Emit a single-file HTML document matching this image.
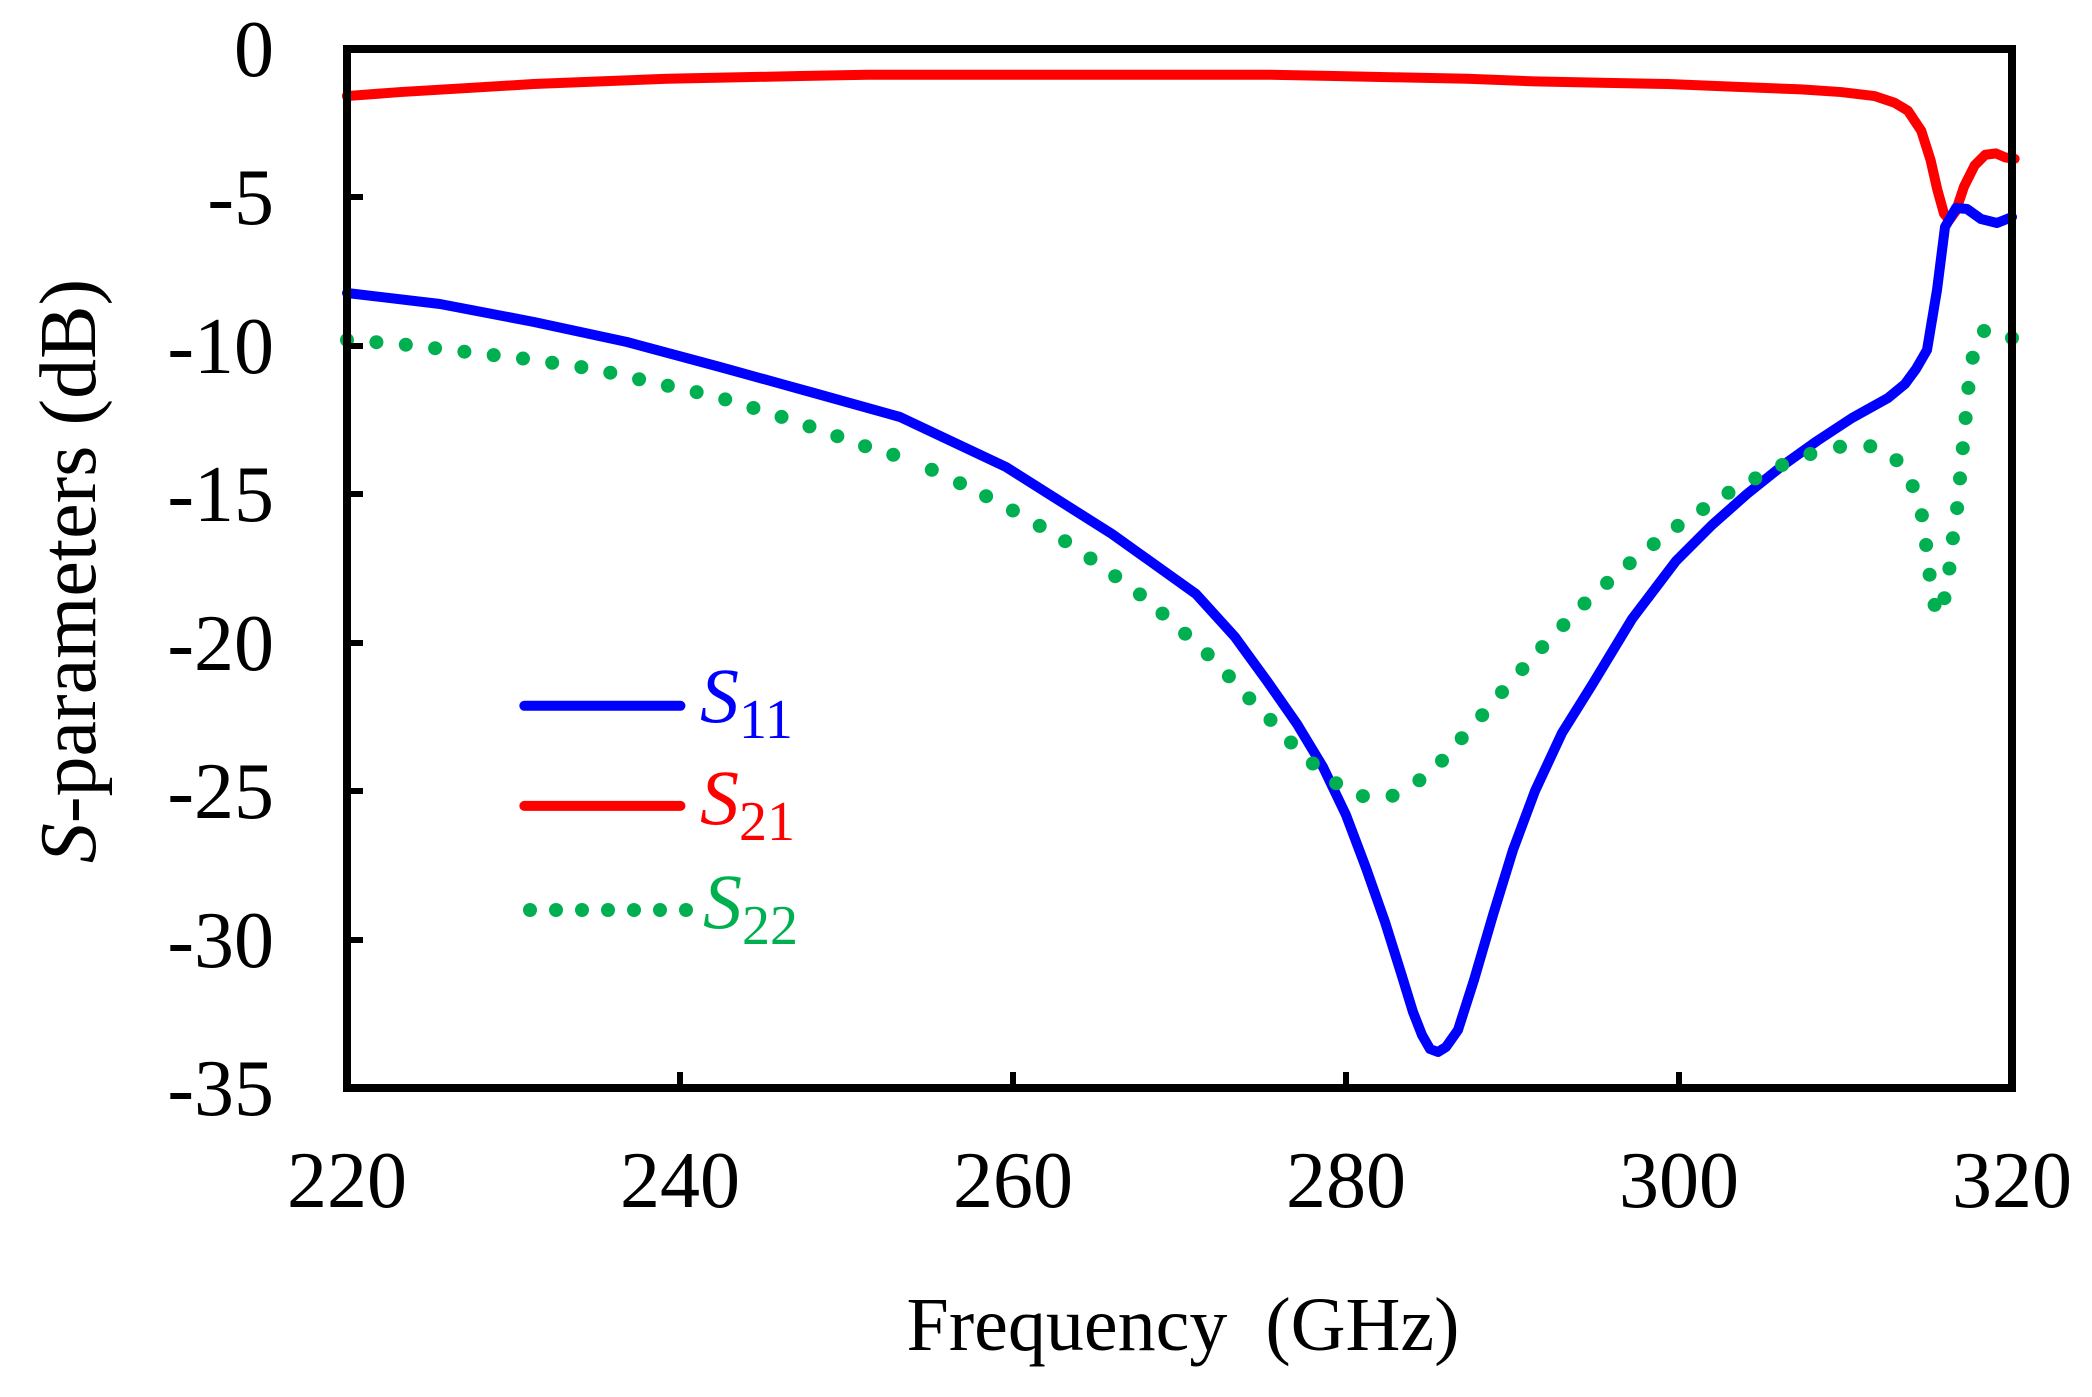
<!DOCTYPE html>
<html><head><meta charset="utf-8"><style>body{margin:0;background:#fff}</style></head>
<body>
<svg width="2092" height="1392" viewBox="0 0 2092 1392" xmlns="http://www.w3.org/2000/svg" font-family="Liberation Serif, serif">
<rect width="2092" height="1392" fill="#fff"/>
<g transform="scale(1.3342)" fill="none" stroke-linejoin="round" stroke-linecap="round">
<polyline stroke="#ff0000" stroke-width="7.5" points="260,72 300,69 350,66 400,63 450,61 500,59 550,58 600,57 650,56 700,56 750,56 800,56 850,56 900,56 950,56 1000,57 1050,58 1100,59 1150,61 1200,62 1250,63 1300,65 1350,67 1380,69 1405,72 1420,77 1430,83 1440,98 1447,120 1452,142 1457,160 1461,165 1466,158 1472,140 1480,124 1488,116 1496,115 1503,118 1510,119"/>
<line x1="393" y1="529" x2="510" y2="529" stroke="#0000ff" stroke-width="7.5"/>
<line x1="393" y1="604" x2="510" y2="604" stroke="#ff0000" stroke-width="7.5"/>
</g>
<g fill="none" stroke-linejoin="round" stroke-linecap="round">
<polyline stroke="#0000ff" stroke-width="10" points="347,293 440,304 534,322 627,342 720,367 814,393 900,417 1006,467 1112,534 1196,594 1235,637 1267,681 1297,724 1323,767 1346,815 1366,868 1385,922 1401,973 1413,1012 1422,1035 1430,1049 1438,1052 1446,1047 1458,1030 1474,980 1493,915 1513,850 1535,791 1562,733 1592,685 1632,619 1676,561 1712,525 1747,494 1782,466 1817,441 1852,418 1888,398 1905,384 1916,369 1927,350 1937,290 1945,227 1956,208 1967,209 1981,219 1997,223 2012,217"/>
<polyline stroke="#00b050" stroke-width="14" stroke-dasharray="0 29.5" points="347,340 400,344 467,352 527,359 594,369 660,384 714,396 770,413 820,430 870,448 903.5,457.8"/>
</g>
<g fill="#00b050">
<circle cx="931.8" cy="469.8" r="7"/><circle cx="960" cy="483.2" r="7"/><circle cx="986.1" cy="496.2" r="7"/><circle cx="1012.9" cy="510.5" r="7"/><circle cx="1039.7" cy="525.9" r="7"/><circle cx="1065.1" cy="541.2" r="7"/><circle cx="1090.5" cy="558.5" r="7"/><circle cx="1115.2" cy="576.2" r="7"/><circle cx="1139.9" cy="594.4" r="7"/><circle cx="1162.5" cy="613.6" r="7"/><circle cx="1185.1" cy="633.7" r="7"/><circle cx="1207.7" cy="654.3" r="7"/><circle cx="1228.9" cy="676.3" r="7"/><circle cx="1249.3" cy="698.4" r="7"/><circle cx="1270.5" cy="719.9" r="7"/><circle cx="1291" cy="742.5" r="7"/><circle cx="1312.8" cy="763.5" r="7"/><circle cx="1336.1" cy="783.2" r="7"/><circle cx="1362.9" cy="796.1" r="7"/><circle cx="1392.6" cy="795.7" r="7"/><circle cx="1419.4" cy="780.3" r="7"/><circle cx="1442" cy="760.7" r="7"/><circle cx="1461.7" cy="738.2" r="7"/><circle cx="1482.2" cy="715.2" r="7"/><circle cx="1502" cy="692.1" r="7"/><circle cx="1522.4" cy="669.1" r="7"/><circle cx="1542.2" cy="647.1" r="7"/><circle cx="1563.4" cy="625.1" r="7"/><circle cx="1584.5" cy="603.5" r="7"/><circle cx="1607.1" cy="582.9" r="7"/><circle cx="1629.7" cy="563.2" r="7"/><circle cx="1653.7" cy="544.1" r="7"/><circle cx="1677.7" cy="525.9" r="7"/><circle cx="1703.1" cy="509.1" r="7"/><circle cx="1728.5" cy="492.8" r="7"/><circle cx="1755.3" cy="478.4" r="7"/><circle cx="1782.1" cy="465" r="7"/><circle cx="1810.4" cy="454" r="7"/><circle cx="1840" cy="446.8" r="7"/><circle cx="1870.3" cy="446.3" r="7"/><circle cx="1896.5" cy="460.2" r="7"/><circle cx="1912.7" cy="486.1" r="7"/><circle cx="1921.9" cy="515.3" r="7"/><circle cx="1926.1" cy="545" r="7"/><circle cx="1929.6" cy="574.7" r="7"/><circle cx="1934.6" cy="604.9" r="7"/><circle cx="1944.4" cy="598.2" r="7"/><circle cx="1949.4" cy="568.5" r="7"/><circle cx="1952.9" cy="538.3" r="7"/><circle cx="1957.1" cy="508.1" r="7"/><circle cx="1960" cy="478.4" r="7"/><circle cx="1962.8" cy="448.2" r="7"/><circle cx="1965.6" cy="418" r="7"/><circle cx="1968.4" cy="387.9" r="7"/><circle cx="1972.7" cy="357.7" r="7"/><circle cx="1984" cy="331" r="7"/><circle cx="2012" cy="338" r="7"/>
<circle cx="530" cy="910" r="7"/><circle cx="556" cy="910" r="7"/><circle cx="582" cy="910" r="7"/><circle cx="608" cy="910" r="7"/><circle cx="634" cy="910" r="7"/><circle cx="660" cy="910" r="7"/><circle cx="686" cy="910" r="7"/>
</g>
<rect x="347" y="49" width="1665" height="1039" fill="none" stroke="#000" stroke-width="8"/>
<g stroke="#000" stroke-width="6">
<line x1="347" y1="197" x2="363" y2="197"/><line x1="347" y1="346" x2="363" y2="346"/><line x1="347" y1="494" x2="363" y2="494"/><line x1="347" y1="643" x2="363" y2="643"/><line x1="347" y1="791" x2="363" y2="791"/><line x1="347" y1="940" x2="363" y2="940"/>
<line x1="680" y1="1088" x2="680" y2="1072"/><line x1="1013" y1="1088" x2="1013" y2="1072"/><line x1="1346" y1="1088" x2="1346" y2="1072"/><line x1="1679" y1="1088" x2="1679" y2="1072"/>
</g>
<g font-size="80" fill="#000" text-anchor="end">
<text x="274" y="76">0</text><text x="274" y="224">-5</text><text x="274" y="373">-10</text><text x="274" y="521">-15</text><text x="274" y="670">-20</text><text x="274" y="818">-25</text><text x="274" y="967">-30</text><text x="274" y="1115">-35</text>
</g>
<g font-size="80" fill="#000" text-anchor="middle">
<text x="347" y="1207">220</text><text x="680" y="1207">240</text><text x="1013" y="1207">260</text><text x="1346" y="1207">280</text><text x="1679" y="1207">300</text><text x="2012" y="1207">320</text>
<text x="1183" y="1350" font-size="76" xml:space="preserve">Frequency  (GHz)</text>
<text transform="translate(95,571) rotate(-90)" font-size="80"><tspan font-style="italic">S</tspan>-parameters (dB)</text>
</g>
<g font-size="78">
<text x="700" y="722" fill="#0000ff"><tspan font-style="italic">S</tspan><tspan font-size="56" dy="16">11</tspan></text>
<text x="700" y="824" fill="#ff0000"><tspan font-style="italic">S</tspan><tspan font-size="56" dy="16">21</tspan></text>
<text x="703" y="928" fill="#00b050"><tspan font-style="italic">S</tspan><tspan font-size="56" dy="16">22</tspan></text>
</g>
</svg>
</body></html>
